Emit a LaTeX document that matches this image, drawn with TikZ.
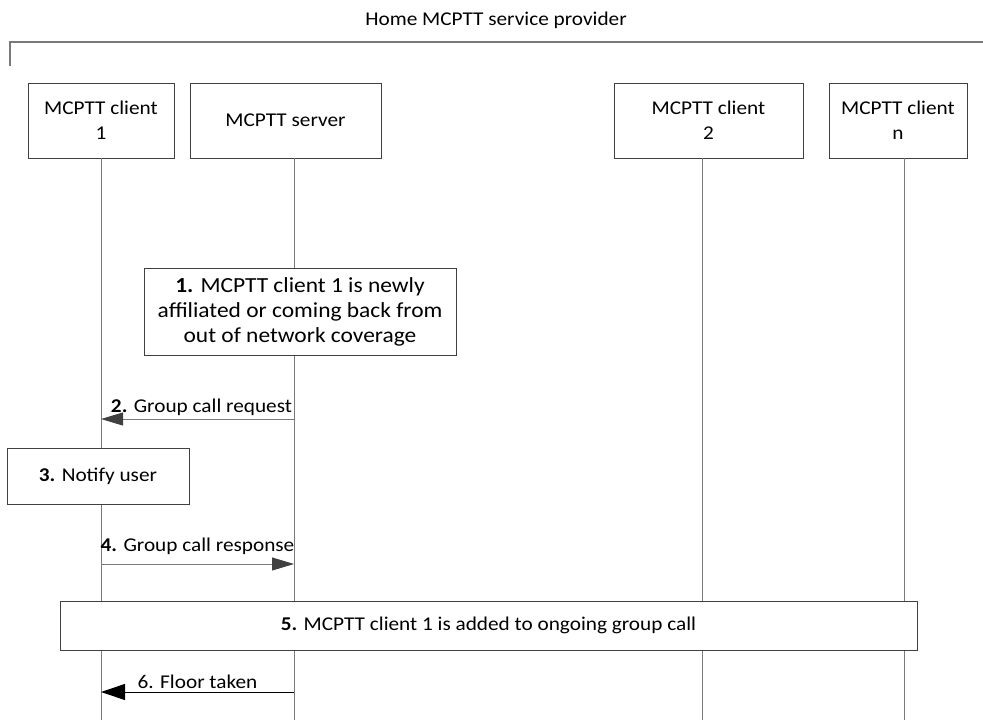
\documentclass[tikz,border=0pt]{standalone}
\usepackage{fontspec}
\setmainfont{Carlito}[FakeStretch=1.09]
\usepackage{xcolor}
\definecolor{lineGray}{HTML}{7A7A7A}
\definecolor{tipGray}{HTML}{404040}
\usetikzlibrary{arrows.meta, positioning}

\begin{document}
\begin{tikzpicture}[
		x=1pt, y=-1pt,
		font=\fontsize{19.5}{25}\selectfont,
		entity/.style={
			draw=black!75,
			fill=white,
			minimum height=75pt,
			align=center,
			inner sep=0pt
		},
		action/.style={
			draw=black!75,
			fill=white,
			align=center,
			inner sep=0pt
		},
		lifeline/.style={draw=lineGray, line width=0.9pt},
		msg/.style={draw=lineGray, line width=1pt, -{Triangle[length=22pt, width=13pt, color=tipGray]}},
		msgdark/.style={draw=black, line width=1pt, -{Triangle[length=24pt, width=16pt, color=black]}}
		]
		
		\useasboundingbox (0,0) rectangle (983,720);
		
		% provider frame
		\node (home) at (496,20) {Home MCPTT service provider};
		\coordinate (frameL) at (10,66);
		\coordinate (frameTL) at (10,42);
		\coordinate (frameR) at (983,42);
		\draw[draw=lineGray, line width=1.5pt] (frameL) -- (frameTL) -- (frameR);
		
		% entities
		\node[entity, minimum width=146pt] (client1) at (101,120.5) {MCPTT client\\1};
		\node[entity, minimum width=191pt] (server) at (285.5,120.5) {MCPTT server};
		\node[entity, minimum width=189pt] (client2) at (708.5,120.5) {MCPTT client\\2};
		\node[entity, minimum width=138pt] (clientn) at (898,120.5) {MCPTT client\\n};
		
		% lifelines
		\coordinate (c1top) at (101,158);
		\coordinate (c1end) at (101,720);
		\coordinate (srvtop) at (294,158);
		\coordinate (srvend) at (294,720);
		\coordinate (c2top) at (702,158);
		\coordinate (c2end) at (702,720);
		\coordinate (cntop) at (904,158);
		\coordinate (cnend) at (904,720);
		\draw[lifeline] (c1top) -- (c1end);
		\draw[lifeline] (srvtop) -- (srvend);
		\draw[lifeline] (c2top) -- (c2end);
		\draw[lifeline] (cntop) -- (cnend);
		
		% steps
		\node[action, minimum width=312pt, minimum height=87pt, font=\fontsize{21.5}{25}\selectfont] (affil) at (300,311.5) {\textbf{1.} MCPTT client 1 is newly\\affiliated or coming back from\\out of network coverage};
		
		\coordinate (reqS) at (294,419);
		\coordinate (reqC) at (101,419);
		\draw[msg] (reqS) -- node[above=0pt, xshift=4pt] {\textbf{2.} Group call request} (reqC);
		
		\node[action, minimum width=182pt, minimum height=56pt] (notify) at (98,476) {\textbf{3.} Notify user};
		
		\coordinate (rspC) at (101,564);
		\coordinate (rspS) at (294,564);
		\draw[msg] (rspC) -- node[above=6pt] {\textbf{4.} Group call response} (rspS);
		
		\node[action, minimum width=857pt, minimum height=49pt] (added) at (488.5,625.5) {\textbf{5.} MCPTT client 1 is added to ongoing group call};
		
		\coordinate (flrS) at (294,692);
		\coordinate (flrC) at (101,692);
		\draw[msgdark] (flrS) -- node[above=0pt] {6. Floor taken} (flrC);
		
	\end{tikzpicture}
\end{document}
